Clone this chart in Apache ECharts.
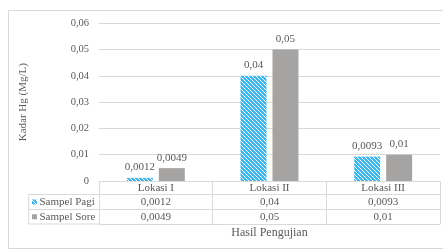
<!DOCTYPE html>
<html>
<head>
<meta charset="utf-8">
<script src="https://cdn.jsdelivr.net/npm/echarts@6/dist/echarts.min.js"></script>
<style>
html,body{margin:0;padding:0;background:#fff;}
#chart{width:443px;height:250px;}
</style>
</head>
<body>
<div id="chart"></div>
<script>
var categories = ['Lokasi I', 'Lokasi II', 'Lokasi III'];
var seriesNames = ['Sampel Pagi', 'Sampel Sore'];
var sampelPagi = [0.0012, 0.04, 0.0093];
var sampelSore = [0.0049, 0.05, 0.01];
var yTicks = [0, 0.01, 0.02, 0.03, 0.04, 0.05, 0.06];
var yTitle = 'Kadar Hg (Mg/L)';
var xTitle = 'Hasil Pengujian';

var FONT = 'Liberation Serif';
var TXT = '#595959';
var LINE = '#d9d9d9';
var GREY = '#a6a3a3';

function fmt(v) { return String(v).replace('.', ','); }
function fmtTick(v) { return v === 0 ? '0' : v.toFixed(2).replace('.', ','); }

// hatched blue pattern
var pc = document.createElement('canvas');
pc.width = 4; pc.height = 4;
var ctx = pc.getContext('2d');
ctx.fillStyle = '#3db8ef';
ctx.fillRect(0, 0, 4, 4);
ctx.strokeStyle = '#ffffff';
ctx.lineWidth = 1;
ctx.beginPath();
ctx.moveTo(-1, -1); ctx.lineTo(5, 5);
ctx.moveTo(-1, 3); ctx.lineTo(1, 5);
ctx.moveTo(3, -1); ctx.lineTo(5, 1);
ctx.stroke();
var hatch = { image: pc, repeat: 'repeat' };

var GL = 99, GR = 3, GT = 23.3, GB = 69;
var axisBottom = 250 - GB;
var rowOffsets = [0, 13.5, 28.5, 43];

var chart = echarts.init(document.getElementById('chart'), null, { renderer: 'canvas' });

var xAxes = [
  {
    type: 'category', data: categories, gridIndex: 0, position: 'bottom', offset: rowOffsets[0],
    axisLine: { show: true, lineStyle: { color: LINE, width: 1 } },
    axisTick: { show: true, length: rowOffsets[3], interval: 0, lineStyle: { color: LINE } },
    axisLabel: { color: TXT, fontFamily: FONT, fontSize: 11, margin: 7, verticalAlign: 'middle', interval: 0 }
  },
  {
    type: 'category', data: categories, gridIndex: 0, position: 'bottom', offset: rowOffsets[1],
    axisLine: { show: true, lineStyle: { color: LINE, width: 1 } },
    axisTick: { show: false },
    axisLabel: { color: TXT, fontFamily: FONT, fontSize: 11, margin: 8, verticalAlign: 'middle', interval: 0,
      formatter: function (v, i) { return fmt(sampelPagi[i]); } }
  },
  {
    type: 'category', data: categories, gridIndex: 0, position: 'bottom', offset: rowOffsets[2],
    axisLine: { show: true, lineStyle: { color: LINE, width: 1 } },
    axisTick: { show: false },
    axisLabel: { color: TXT, fontFamily: FONT, fontSize: 11, margin: 7.5, verticalAlign: 'middle', interval: 0,
      formatter: function (v, i) { return fmt(sampelSore[i]); } }
  },
  {
    type: 'category', data: categories, gridIndex: 0, position: 'bottom', offset: rowOffsets[3],
    axisLine: { show: true, lineStyle: { color: LINE, width: 1 } },
    axisTick: { show: false },
    axisLabel: { show: false },
    name: xTitle, nameLocation: 'middle', nameGap: 9,
    nameTextStyle: { color: TXT, fontFamily: FONT, fontSize: 12, verticalAlign: 'middle' }
  }
];

var legendLeft = 28.7;
var rowLines = [axisBottom + rowOffsets[1], axisBottom + rowOffsets[2], axisBottom + rowOffsets[3]];
var graphics = [
  { type: 'rect', shape: { x: 8.5, y: 10.5, width: 445, height: 238 }, style: { fill: 'none', stroke: LINE, lineWidth: 1 }, silent: true, z: 0 },
  { type: 'line', shape: { x1: legendLeft, y1: rowLines[0], x2: legendLeft, y2: rowLines[2] }, style: { stroke: LINE, lineWidth: 1 } }
];
rowLines.forEach(function (y) {
  graphics.push({ type: 'line', shape: { x1: legendLeft, y1: y, x2: GL, y2: y }, style: { stroke: LINE, lineWidth: 1 } });
});
[hatch, GREY].forEach(function (fill, k) {
  var cy = (rowLines[k] + rowLines[k + 1]) / 2;
  graphics.push({ type: 'rect', shape: { x: 32, y: cy - 2.5, width: 5, height: 5 }, style: { fill: fill } });
  graphics.push({ type: 'text', x: 39.5, y: cy, style: { text: seriesNames[k], fill: TXT, fontFamily: FONT, fontSize: 11, verticalAlign: 'middle', align: 'left' } });
});

var option = {
  animation: false,
  backgroundColor: '#ffffff',
  textStyle: { fontFamily: FONT },
  grid: { left: GL, right: GR, top: GT, bottom: GB, containLabel: false },
  xAxis: xAxes,
  yAxis: {
    type: 'value', min: 0, max: yTicks[yTicks.length - 1], interval: 0.01,
    axisLine: { show: false }, axisTick: { show: false },
    splitLine: { lineStyle: { color: LINE, width: 1 } },
    axisLabel: { color: TXT, fontFamily: FONT, fontSize: 10.5, margin: 10, formatter: fmtTick },
    name: yTitle, nameLocation: 'middle', nameGap: 70, nameRotate: 90,
    nameTextStyle: { color: TXT, fontFamily: FONT, fontSize: 11 }
  },
  series: [
    {
      name: seriesNames[0], type: 'bar', xAxisIndex: 0, data: sampelPagi,
      barCategoryGap: '49%', barGap: '23%',
      itemStyle: { color: hatch },
      label: { show: true, position: 'top', distance: 5, color: TXT, fontFamily: FONT, fontSize: 11, formatter: function (p) { return fmt(p.value); } }
    },
    {
      name: seriesNames[1], type: 'bar', xAxisIndex: 0, data: sampelSore,
      barCategoryGap: '49%', barGap: '23%',
      itemStyle: { color: GREY },
      label: { show: true, position: 'top', distance: 5, color: TXT, fontFamily: FONT, fontSize: 11, formatter: function (p) { return fmt(p.value); } }
    }
  ],
  graphic: graphics
};
chart.setOption(option);
</script>
</body>
</html>
